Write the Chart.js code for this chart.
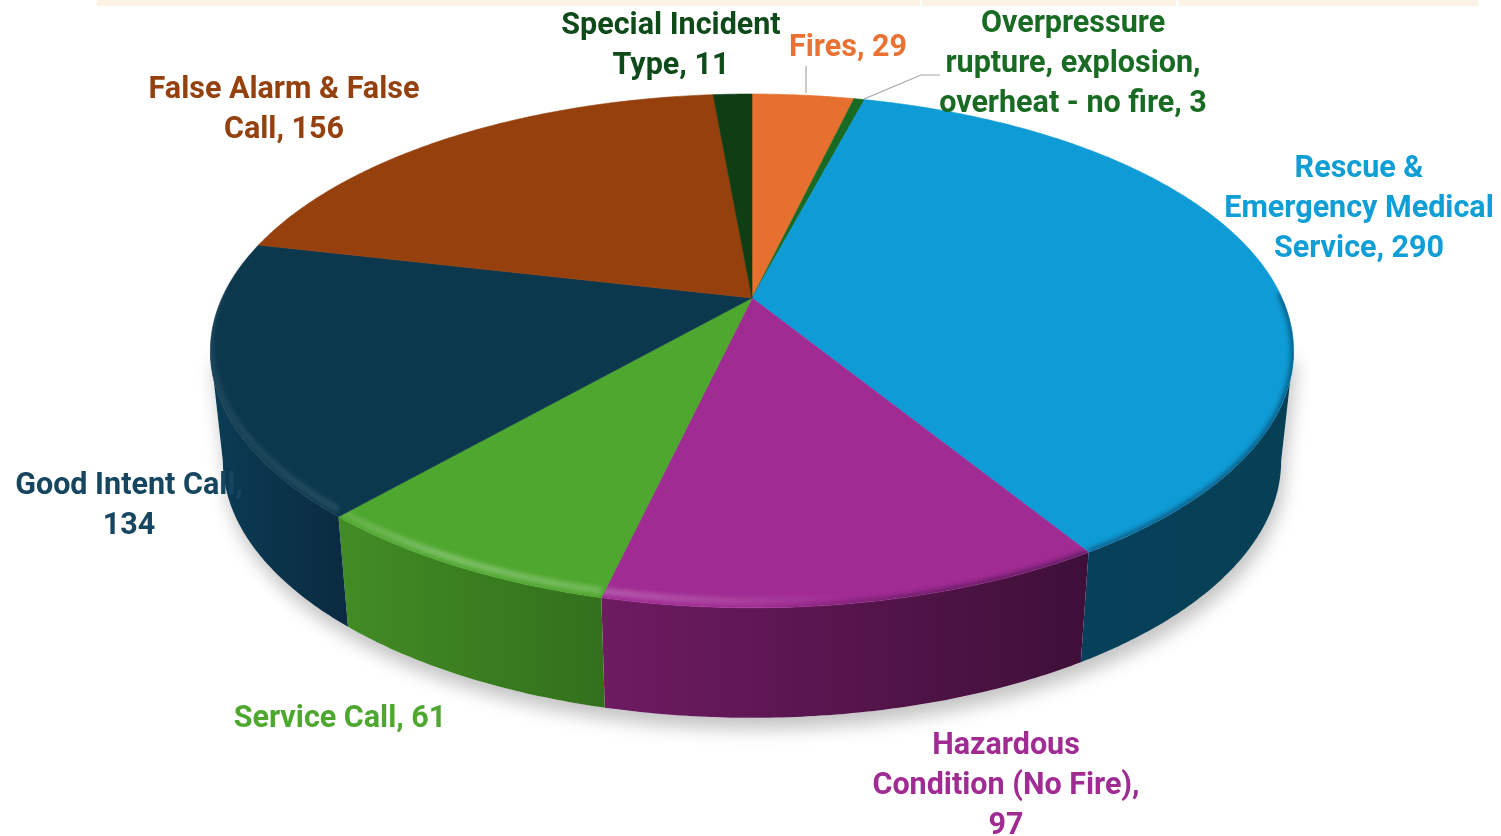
<!DOCTYPE html>
<html>
<head>
<meta charset="utf-8">
<style>
html,body{margin:0;padding:0;background:#fff;overflow:hidden}
#wrap{position:relative;width:1501px;height:836px}
canvas{display:block;filter:blur(0.5px)}
</style>
<script src="https://cdn.jsdelivr.net/npm/chart.js@4/dist/chart.umd.min.js"></script>
</head>
<body>
<div id="wrap"><canvas id="c" width="1501" height="836"></canvas></div>
<script>
const categories = ["Fires","Overpressure rupture, explosion, overheat - no fire","Rescue & Emergency Medical Service","Hazardous Condition (No Fire)","Service Call","Good Intent Call","False Alarm & False Call","Special Incident Type"];
const values = [29,3,290,97,61,134,156,11];
const faceColors = ["#E67030","#196B24","#0F9BD5","#A02B93","#4EA72E","#0C384E","#95400D","#0F3D14"];
const labelColors = ["#E97132","#196B24","#0F9ED5","#A02B93","#4EA72E","#164560","#95410F","#0F4A1B"];
const wallLeft = ["#8A4420","#0F4015","#07405A","#6E1B62","#428C25","#0B3C55","#5A270A","#0A2A0E"];
const wallRight = ["#8A4420","#0F4015","#073F55","#3E0F38","#33701C","#0A2A40","#5A270A","#0A2A0E"];
const labelLines = [["Fires, 29"],["Overpressure","rupture, explosion,","overheat - no fire, 3"],["Rescue &","Emergency Medical","Service, 290"],["Hazardous","Condition (No Fire),","97"],["Service Call, 61"],["Good Intent Call,","134"],["False Alarm & False","Call, 156"],["Special Incident","Type, 11"]];
const labelAnchors = [[848,46],[1073,22],[1359,167],[1006,744],[340,717],[129,484],[284,88],[671,24]];
const leaderLines = [[[806,66],[806,93]],[[940,75],[921,75],[864,99]]];
const cream = [[97,920],[922,1176],[1179,1478]];

// projection of the unit disc into the tilted view
const view = {cx:752, cy:298, c:530, a:246, p:-0.206, depth:110, shrink:0.977};
const sideAngle = Math.asin(-view.p);   // angle of the disc's widest point on screen
const topPt = (ang)=>{const u=Math.cos(ang),v=Math.sin(ang),w=1+view.p*v;
  return [view.cx+view.c*u/w, view.cy+view.a*v/w];};
const botPt = (ang)=>{const t=topPt(ang);
  return [view.cx+(t[0]-view.cx)*view.shrink, t[1]+view.depth];};
function sweep(a0,a1){const n=Math.max(2,Math.ceil((a1-a0)/0.01));const r=[];
  for(let i=0;i<=n;i++)r.push(a0+(a1-a0)*i/n);return r;}
function path(ctx,pts){ctx.beginPath();pts.forEach((q,i)=>i?ctx.lineTo(q[0],q[1]):ctx.moveTo(q[0],q[1]));}

const pie3d = {
  id:'pie3d',
  beforeDatasetsDraw(chart){
    const ctx = chart.ctx, arcs = chart.getDatasetMeta(0).data;
    // cream strip
    ctx.save();ctx.fillStyle='#FDF2E6';cream.forEach(s=>ctx.fillRect(s[0],0,s[1]-s[0],6));ctx.restore();
    // ground shadow
    ctx.save();
    ctx.shadowColor='rgba(0,0,0,0.24)';ctx.shadowBlur=18;ctx.shadowOffsetY=11;ctx.shadowOffsetX=3;
    ctx.fillStyle='#fff';
    path(ctx,[topPt(sideAngle)].concat(sweep(sideAngle,Math.PI-sideAngle).map(botPt),[topPt(Math.PI-sideAngle)]));ctx.closePath();ctx.fill();
    ctx.restore();
    // walls (front half only)
    arcs.forEach((el,i)=>{
      const a0=Math.max(el.startAngle,sideAngle), a1=Math.min(el.endAngle,Math.PI-sideAngle);
      if(a1<=a0)return;
      const ang=sweep(a0,a1);
      const tp=ang.map(topPt), bp=ang.map(botPt).reverse();
      const pts=tp.concat(bp);
      const xs=pts.map(q=>q[0]);
      const g=ctx.createLinearGradient(Math.min(...xs),0,Math.max(...xs),0);
      g.addColorStop(0,wallLeft[i]);g.addColorStop(1,wallRight[i]);
      ctx.fillStyle=g;path(ctx,pts);ctx.closePath();ctx.fill();
    });
    // top faces with rim bevel
    arcs.forEach((el,i)=>{
      const ang=sweep(el.startAngle,el.endAngle);
      const rim=ang.map(topPt);
      const pts=[[view.cx,view.cy]].concat(rim);
      ctx.save();
      path(ctx,pts);ctx.closePath();
      ctx.fillStyle=faceColors[i];ctx.fill();
      ctx.strokeStyle=faceColors[i];ctx.lineWidth=0.6;ctx.stroke();
      ctx.clip();
      const front=ang.filter(a=>Math.sin(a)>-0.02).map(topPt);
      if(front.length>1){
        ctx.filter='blur(2.5px)';
        // soft dark rim at the right
        let g=ctx.createLinearGradient(760,0,1294,0);
        g.addColorStop(0,'rgba(0,0,0,0)');g.addColorStop(0.3,'rgba(20,0,30,0.45)');g.addColorStop(1,'rgba(0,20,40,0.55)');
        ctx.strokeStyle=g;ctx.lineWidth=5;path(ctx,front);ctx.stroke();
        // highlight at the left
        g=ctx.createLinearGradient(210,0,860,0);
        g.addColorStop(0,'rgba(255,255,255,0.07)');g.addColorStop(0.2,'rgba(255,255,255,0.10)');
        g.addColorStop(0.35,'rgba(255,255,255,0.28)');g.addColorStop(0.65,'rgba(255,255,255,0.20)');g.addColorStop(1,'rgba(255,255,255,0)');
        ctx.filter='blur(2px)';
        ctx.strokeStyle=g;ctx.lineWidth=7;path(ctx,front.map(q=>[q[0],q[1]-7]));ctx.stroke();
      }
      ctx.restore();
    });
    return false;
  },
  afterDraw(chart){
    const ctx=chart.ctx;
    ctx.save();
    ctx.strokeStyle='#A6A6A6';ctx.lineWidth=1.2;
    leaderLines.forEach(l=>{path(ctx,l);ctx.stroke();});
    ctx.font='700 30.5px Roboto';ctx.textAlign='center';ctx.textBaseline='middle';
    labelLines.forEach((lines,i)=>{
      ctx.fillStyle=labelColors[i];
      lines.forEach((t,k)=>ctx.fillText(t,labelAnchors[i][0],labelAnchors[i][1]+2+k*40));
    });
    ctx.restore();
  }
};

new Chart(document.getElementById('c'),{
  type:'pie',
  data:{labels:categories,datasets:[{data:values,backgroundColor:faceColors,borderWidth:0}]},
  options:{responsive:false,animation:false,events:[],plugins:{legend:{display:false},tooltip:{enabled:false}}},
  plugins:[pie3d]
});
</script>
</body>
</html>
